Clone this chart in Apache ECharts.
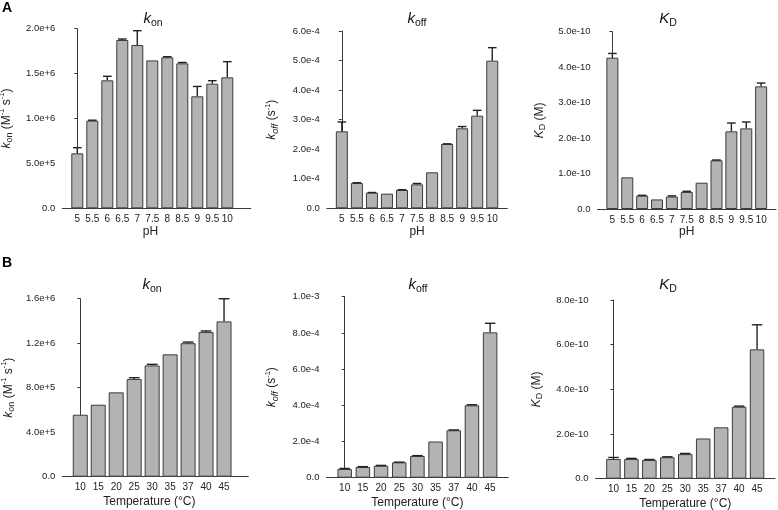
<!DOCTYPE html>
<html><head><meta charset="utf-8">
<script src="https://cdn.jsdelivr.net/npm/echarts@6/dist/echarts.min.js"></script>
<style>html,body{margin:0;padding:0;background:#fff}#c{width:778px;height:510px}</style>
</head><body><div id="c"></div>
<script>
// ---- data ----
const pHLabels = ['5','5.5','6','6.5','7','7.5','8','8.5','9','9.5','10'];
const tempLabels = ['10','15','20','25','30','35','37','40','45'];

const konPH    = [6.12e5, 9.76e5, 1.425e6, 1.874e6, 1.818e6, 1.647e6, 1.681e6, 1.614e6, 1.247e6, 1.388e6, 1.458e6];
const konPHErr = [6.3e4, 5e3, 4.5e4, 1.1e4, 1.6e5, 0, 7e3, 1e4, 1.1e5, 3.3e4, 1.75e5];
const koffPH    = [2.605e-4, 0.857e-4, 0.53e-4, 0.496e-4, 0.62e-4, 0.81e-4, 1.218e-4, 2.177e-4, 2.707e-4, 3.135e-4, 4.996e-4];
const koffPHErr = [0.316e-4, 0.01e-4, 0.005e-4, 0, 0.01e-4, 0.03e-4, 0, 0.005e-4, 0.06e-4, 0.18e-4, 0.44e-4];
const kdPH    = [4.267e-10, 0.893e-10, 0.376e-10, 0.27e-10, 0.35e-10, 0.48e-10, 0.742e-10, 1.372e-10, 2.19e-10, 2.274e-10, 3.459e-10];
const kdPHErr = [0.12e-10, 0, 0.01e-10, 0, 0.02e-10, 0.02e-10, 0, 0.01e-10, 0.235e-10, 0.18e-10, 0.094e-10];

const konT    = [5.57e5, 6.47e5, 7.58e5, 8.78e5, 1.0e6, 1.1e6, 1.2e6, 1.3e6, 1.396e6];
const konTErr = [0, 0, 0, 1.2e4, 1e4, 0, 1e4, 1e4, 2.04e5];
const koffT    = [4.8e-5, 5.9e-5, 6.6e-5, 8.5e-5, 1.2e-4, 2.0e-4, 2.62e-4, 4.0e-4, 8.03e-4];
const koffTErr = [3e-6, 2e-6, 2e-6, 1e-6, 2e-6, 0, 2e-6, 3e-6, 5e-5];
const kdT    = [8.8e-11, 8.8e-11, 8.4e-11, 9.6e-11, 1.1e-10, 1.8e-10, 2.3e-10, 3.22e-10, 5.79e-10];
const kdTErr = [7e-12, 3e-12, 2e-12, 2e-12, 3e-12, 0, 0, 3e-12, 1.1e-10];

// y-axis ranges (tick labels generated from these)
const yMaxes = [2e6, 6e-4, 5e-10, 1.6e6, 1e-3, 8e-10];
const ySteps = [5e5, 1e-4, 1e-10, 4e5, 2e-4, 2e-10];

const titles = ['{t|k}{ts|on}', '{t|k}{ts|off}', '{t|K}{ts|D}', '{t|k}{ts|on}', '{t|k}{ts|off}', '{t|K}{ts|D}'];
const yNames = ['{i|k}{sub|on} (M{sup|-1} s{sup|-1})', '{i|k}{subi|off} (s{sup|-1})', '{i|K}{sub|D} (M)',
                '{i|k}{sub|on} (M{sup|-1} s{sup|-1})', '{i|k}{subi|off} (s{sup|-1})', '{i|K}{sub|D} (M)'];
const xNames = ['pH', 'pH', 'pH', 'Temperature (°C)', 'Temperature (°C)', 'Temperature (°C)'];

const seriesCats = [pHLabels, pHLabels, pHLabels, tempLabels, tempLabels, tempLabels];
const seriesVals = [konPH, koffPH, kdPH, konT, koffT, kdT];
const seriesErrs = [konPHErr, koffPHErr, kdPHErr, konTErr, koffTErr, kdTErr];

// ---- layout ----
const layout = [
  {l: 62.3, r: 250.7, t: 28.7, b: 208.3, xMax: 11.56, barW: 12, tx: 153, ty: 9, gapY: 48, gapX: 17, xShift: 6},
  {l: 326.8, r: 507.3, t: 31, b: 208.3, xMax: 11, barW: 12, tx: 417, ty: 9, gapY: 47, gapX: 17, xShift: 0},
  {l: 597.5, r: 776, t: 31.7, b: 209, xMax: 11, barW: 12, tx: 668, ty: 9, gapY: 50, gapX: 17, xShift: 0},
  {l: 62.3, r: 248.3, t: 298.7, b: 476.7, xMax: 9.35, barW: 15, tx: 152, ty: 275, gapY: 46, gapX: 19, xShift: 6},
  {l: 326.5, r: 508.3, t: 296.7, b: 477.7, xMax: 9, barW: 14.5, tx: 418, ty: 275, gapY: 47, gapX: 19, xShift: 0},
  {l: 595.5, r: 775, t: 300, b: 478.7, xMax: 9, barW: 14.5, tx: 668, ty: 275, gapY: 51, gapX: 19, xShift: 0}
];

const FONT = '"Liberation Sans", Arial, sans-serif';
const TXT = '#222';
const AX = '#3a3a3a';

const nameRich = {
  i: {fontStyle: 'italic', fontSize: 12, fontFamily: FONT, color: TXT},
  sub: {fontSize: 9, fontFamily: FONT, color: TXT, padding: [7, 0, 0, 0]},
  subi: {fontSize: 9, fontStyle: 'italic', fontFamily: FONT, color: TXT, padding: [7, 0, 0, 0]},
  sup: {fontSize: 7.5, fontFamily: FONT, color: TXT, padding: [0, 0, 8, 0]}
};
const titleRich = {
  t: {fontStyle: 'italic', fontWeight: 'normal', fontSize: 15, fontFamily: FONT, color: '#111'},
  ts: {fontWeight: 'normal', fontSize: 10.5, fontFamily: FONT, color: '#111', padding: [9, 0, 0, 0]}
};

function fmtY(v) { return v === 0 ? '0.0' : v.toExponential(1); }

function errRender(barW) {
  return function (params, api) {
    const x = api.value(0), v = api.value(1), e = api.value(2);
    if (!e) return null;
    const p0 = api.coord([x, v]);
    const p1 = api.coord([x, v + e]);
    const hw = barW * 0.36;
    const st = {stroke: '#222', lineWidth: 1.4};
    return {type: 'group', children: [
      {type: 'line', shape: {x1: p0[0], y1: p0[1], x2: p1[0], y2: p1[1]}, style: st},
      {type: 'line', shape: {x1: p1[0] - hw, y1: p1[1], x2: p1[0] + hw, y2: p1[1]}, style: st}
    ]};
  };
}

const grid = [], xAxis = [], yAxis = [], series = [];
const title = [
  {text: 'A', left: 2, top: 1, padding: 0, textStyle: {fontSize: 14, fontWeight: 'bold', fontFamily: FONT, color: '#000'}},
  {text: 'B', left: 2, top: 256, padding: 0, textStyle: {fontSize: 14, fontWeight: 'bold', fontFamily: FONT, color: '#000'}}
];

layout.forEach((L, k) => {
  const cats = seriesCats[k];
  grid.push({left: L.l, top: L.t, width: L.r - L.l, height: L.b - L.t, outerBoundsMode: 'none', containLabel: false});
  xAxis.push({
    type: 'value', gridIndex: k, min: -1, max: L.xMax, interval: 1,
    axisLine: {show: true, onZero: false, lineStyle: {color: AX, width: 1}},
    axisTick: {show: false}, splitLine: {show: false},
    axisLabel: {
      fontSize: 10, fontFamily: FONT, color: TXT, margin: 6, showMinLabel: true, showMaxLabel: true, hideOverlap: false,
      formatter: v => (Math.abs(v - Math.round(v)) < 1e-6 && cats[Math.round(v)] !== undefined) ? cats[Math.round(v)] : ''
    },
    name: xNames[k], nameLocation: 'middle', nameGap: L.gapX, nameMoveOverlap: false,
    nameTextStyle: {fontSize: 12, fontFamily: FONT, color: TXT, padding: [0, L.xShift * 2, 0, 0]}
  });
  yAxis.push({
    type: 'value', gridIndex: k, min: 0, max: yMaxes[k], interval: ySteps[k],
    axisLine: {show: true, lineStyle: {color: AX, width: 1}},
    axisTick: {show: true, length: 3, inside: false, lineStyle: {color: AX}},
    splitLine: {show: false},
    axisLabel: {fontSize: 9.5, fontFamily: FONT, color: TXT, margin: 7, formatter: fmtY},
    name: yNames[k], nameLocation: 'middle', nameGap: L.gapY, nameMoveOverlap: false,
    nameTextStyle: {fontSize: 12, fontFamily: FONT, color: TXT, rich: nameRich}
  });
  title.push({text: titles[k], left: L.tx, top: L.ty, padding: 0, textAlign: 'center',
    textStyle: {fontSize: 15, fontWeight: 'normal', fontFamily: FONT, color: '#111', rich: titleRich}});
  const vals = seriesVals[k], errs = seriesErrs[k];
  series.push({
    type: 'bar', xAxisIndex: k, yAxisIndex: k, barWidth: L.barW, silent: true,
    itemStyle: {color: '#b3b3b3', borderColor: '#3c3c3c', borderWidth: 1},
    data: vals.map((v, i) => [i, v])
  });
  series.push({
    type: 'custom', xAxisIndex: k, yAxisIndex: k, z: 5, silent: true,
    renderItem: errRender(L.barW),
    data: vals.map((v, i) => [i, v, errs[i]])
  });
});

const chart = echarts.init(document.getElementById('c'), null, {renderer: 'canvas', width: 778, height: 510});
chart.setOption({animation: false, backgroundColor: '#fff', title, grid, xAxis, yAxis, series});
</script>
</body></html>
